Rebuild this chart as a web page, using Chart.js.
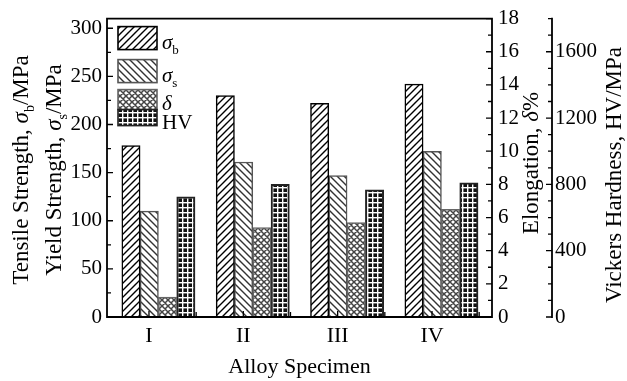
<!DOCTYPE html>
<html>
<head>
<meta charset="utf-8">
<script src="https://cdn.jsdelivr.net/npm/chart.js@4.4.0/dist/chart.umd.min.js"></script>
<style>
html, body { margin: 0; padding: 0; background: #fff; }
#wrap { position: relative; width: 627px; height: 381px; }
</style>
</head>
<body>
<div id="wrap"><canvas id="chart_alloySpecimen"></canvas></div>
<script>
// values
const categories = ['I', 'II', 'III', 'IV'];
const tensileStrength = [178, 230, 222, 242];   // MPa, left axis
const yieldStrength = [110, 161, 147, 172];     // MPa, left axis
const elongation = [1.2, 5.4, 5.7, 6.5];        // %, first right axis
const vickersHardness = [725, 800, 767, 809];   // HV/MPa, second right axis

// legend / series names (rich text parts)
const seriesLabels = [
    [{ t: 'σ', italic: true }, { t: 'b', sub: true }],
    [{ t: 'σ', italic: true }, { t: 's', sub: true }],
    [{ t: 'δ', italic: true }],
    [{ t: 'HV' }]
];

const FONT = '"Liberation Serif", "Times New Roman", serif';
const groupShift = 0.1;

function toPoints(values) {
    return values.map((v, i) => ({ x: i + 1 + groupShift, y: v }));
}

function makePattern(size, draw) {
    const c = document.createElement('canvas');
    c.width = size; c.height = size;
    const g = c.getContext('2d');
    draw(g, size);
    return g.createPattern(c, 'repeat');
}

const patTensile = makePattern(7, (g, s) => {
    g.fillStyle = '#fff'; g.fillRect(0, 0, s, s);
    g.strokeStyle = '#000'; g.lineWidth = 1.4;
    g.beginPath();
    g.moveTo(0, s); g.lineTo(s, 0);
    g.moveTo(-1, 1); g.lineTo(1, -1);
    g.moveTo(s - 1, s + 1); g.lineTo(s + 1, s - 1);
    g.stroke();
});
const patYield = makePattern(7, (g, s) => {
    g.fillStyle = '#fff'; g.fillRect(0, 0, s, s);
    g.strokeStyle = '#333'; g.lineWidth = 1.4;
    g.beginPath();
    g.moveTo(0, 0); g.lineTo(s, s);
    g.moveTo(-1, s - 1); g.lineTo(1, s + 1);
    g.moveTo(s - 1, -1); g.lineTo(s + 1, 1);
    g.stroke();
});
const patElong = makePattern(6, (g, s) => {
    g.fillStyle = '#fff'; g.fillRect(0, 0, s, s);
    g.strokeStyle = '#444'; g.lineWidth = 1.5;
    g.beginPath();
    g.moveTo(0, s); g.lineTo(s, 0);
    g.moveTo(-1, 1); g.lineTo(1, -1);
    g.moveTo(s - 1, s + 1); g.lineTo(s + 1, s - 1);
    g.moveTo(0, 0); g.lineTo(s, s);
    g.moveTo(-1, s - 1); g.lineTo(1, s + 1);
    g.moveTo(s - 1, -1); g.lineTo(s + 1, 1);
    g.stroke();
});
const patHardness = makePattern(5, (g, s) => {
    g.fillStyle = '#111'; g.fillRect(0, 0, s, s);
    g.fillStyle = '#fff';
    g.fillRect(2, 0, 1.4, s);
    g.fillRect(0, 2, s, 1.4);
});

const seriesStyles = [
    { fill: patTensile, border: '#000' },
    { fill: patYield, border: '#555' },
    { fill: patElong, border: '#666' },
    { fill: patHardness, border: '#222' }
];

function fontFor(p, size) {
    return (p.italic ? 'italic ' : '') + Math.round(p.sub ? size * 0.6 : size) + 'px ' + FONT;
}
function richWidth(ctx, parts, size) {
    let w = 0;
    parts.forEach(p => { ctx.font = fontFor(p, size); w += ctx.measureText(p.t).width; });
    return w;
}
// draws text centred at (x, y); rotated reads bottom to top
function drawRich(ctx, parts, size, x, y, rotated, alignLeft) {
    ctx.save();
    ctx.translate(x, y);
    if (rotated) ctx.rotate(-Math.PI / 2);
    ctx.fillStyle = '#000';
    ctx.textAlign = 'left';
    ctx.textBaseline = 'alphabetic';
    let cx = alignLeft ? 0 : -richWidth(ctx, parts, size) / 2;
    const base = size * 0.33;
    parts.forEach(p => {
        ctx.font = fontFor(p, size);
        ctx.fillText(p.t, cx, base + (p.sub ? size * 0.27 : 0));
        cx += ctx.measureText(p.t).width;
    });
    ctx.restore();
}

const tickFont = { family: FONT, size: 21 };

const chart_alloySpecimen = new Chart(document.getElementById('chart_alloySpecimen'), {
    type: 'bar',
    data: {
        datasets: [
            { label: 'σb', data: toPoints(tensileStrength), yAxisID: 'y' },
            { label: 'σs', data: toPoints(yieldStrength), yAxisID: 'y' },
            { label: 'δ', data: toPoints(elongation), yAxisID: 'y1' },
            { label: 'HV', data: toPoints(vickersHardness), yAxisID: 'y2' }
        ].map((d, i) => Object.assign(d, {
            backgroundColor: seriesStyles[i].fill,
            borderColor: seriesStyles[i].border,
            borderWidth: i === 3 ? 2 : 1.5
        }))
    },
    options: {
        animation: false,
        responsive: true,
        maintainAspectRatio: false,
        layout: { padding: { top: 16, left: 0, right: 0, bottom: 0 } },
        datasets: { bar: { barThickness: 18.3 } },
        plugins: {
            legend: { display: false },
            tooltip: { enabled: false }
        },
        scales: {
            x: {
                type: 'linear',
                offset: false,
                min: 0.555,
                max: 4.636,
                grid: { display: false, drawTicks: false, offset: false },
                border: { display: false },
                ticks: {
                    stepSize: 0.5, includeBounds: false, autoSkip: false, maxRotation: 0,
                    padding: 6, color: '#000', font: { family: FONT, size: 22 },
                    callback: v => Number.isInteger(v) ? categories[v - 1] : ''
                },
                afterFit: s => { s.height = 64; }
            },
            y: {
                position: 'left',
                min: 0, max: 310,
                grid: { display: false, drawTicks: false },
                border: { display: false },
                ticks: { stepSize: 50, includeBounds: false, padding: 5, color: '#000', font: tickFont,
                    callback: v => String(v) },
                afterFit: s => { s.width = 107; }
            },
            y1: {
                position: 'right',
                min: 0, max: 18,
                grid: { display: false, drawTicks: false },
                border: { display: false },
                ticks: { stepSize: 2, includeBounds: false, padding: 6, color: '#000', font: tickFont,
                    callback: v => String(v) },
                afterFit: s => { s.width = 60; }
            },
            y2: {
                position: 'right',
                min: 0, max: 1800,
                grid: { display: false, drawTicks: false },
                border: { display: false },
                ticks: { stepSize: 400, includeBounds: false, padding: 3, color: '#000', font: tickFont,
                    callback: v => String(v) },
                afterFit: s => { s.width = 75; }
            }
        }
    },
    plugins: [{
        id: 'whiteBackground',
        beforeDraw: (chart) => {
            const ctx = chart.ctx;
            ctx.save();
            ctx.fillStyle = 'white';
            ctx.fillRect(0, 0, chart.width, chart.height);
            ctx.restore();
        }
    }, {
        id: 'originAxes',
        afterDraw: (chart) => {
            const ctx = chart.ctx;
            const ca = chart.chartArea;
            const { x, y, y1, y2 } = chart.scales;
            const vx = y2.left;
            ctx.save();
            ctx.strokeStyle = '#000';
            ctx.lineCap = 'square';

            // frame + axis lines
            ctx.lineWidth = 1.8;
            ctx.beginPath();
            ctx.moveTo(ca.left, ca.bottom); ctx.lineTo(ca.left, ca.top); ctx.lineTo(ca.right, ca.top);
            ctx.moveTo(ca.right, ca.top); ctx.lineTo(ca.right, ca.bottom);
            ctx.moveTo(ca.left, ca.bottom); ctx.lineTo(ca.right, ca.bottom);
            ctx.moveTo(vx, ca.top); ctx.lineTo(vx, ca.bottom);
            ctx.stroke();

            // inward ticks, major + minor
            ctx.lineWidth = 1.3;
            ctx.lineCap = 'butt';
            ctx.beginPath();
            const ys = y.options.ticks.stepSize / 2;
            for (let v = y.min, k = 0; v <= y.max + 1e-9; v += ys, k++) {
                const py = y.getPixelForValue(v);
                ctx.moveTo(ca.left, py); ctx.lineTo(ca.left + (k % 2 ? 4 : 6), py);
            }
            const y1s = y1.options.ticks.stepSize / 2;
            for (let v = y1.min, k = 0; v <= y1.max + 1e-9; v += y1s, k++) {
                const py = y1.getPixelForValue(v);
                ctx.moveTo(ca.right, py); ctx.lineTo(ca.right - (k % 2 ? 4 : 6), py);
            }
            const y2s = y2.options.ticks.stepSize / 4;
            for (let v = y2.min, k = 0; v <= y2.max + 1e-9; v += y2s, k++) {
                const py = y2.getPixelForValue(v);
                ctx.moveTo(vx, py); ctx.lineTo(vx - (k % 4 ? 4 : 6), py);
            }
            x.ticks.forEach(t => {
                const px = x.getPixelForValue(t.value);
                ctx.moveTo(px, ca.bottom); ctx.lineTo(px, ca.bottom - (Number.isInteger(t.value) ? 6 : 5));
            });
            ctx.stroke();

            // axis titles
            drawRich(ctx, [{ t: 'Tensile Strength, ' }, { t: 'σ', italic: true }, { t: 'b', sub: true }, { t: '/MPa' }], 23, 20, 170, true);
            drawRich(ctx, [{ t: 'Yield Strength, ' }, { t: 'σ', italic: true }, { t: 's', sub: true }, { t: '/MPa' }], 23, 53, 170, true);
            drawRich(ctx, [{ t: 'Elongation, ' }, { t: 'δ', italic: true }, { t: '%' }], 23, 530, 163, true);
            drawRich(ctx, [{ t: 'Vickers Hardness, HV/MPa' }], 23, 613, 175, true);
            drawRich(ctx, [{ t: 'Alloy Specimen' }], 22, (ca.left + ca.right) / 2, 366, false);

            // legend
            const bx = ca.left + 11, bw = 39;
            const rows = [
                { top: 24, h: 23, base: 36 },
                { top: 57, h: 23, base: 69 },
                { top: 87, h: 20, base: 97 },
                { top: 107, h: 16, base: 116 }
            ];
            rows.forEach((r, i) => {
                const st = seriesStyles[i];
                ctx.fillStyle = st.fill;
                ctx.fillRect(bx, ca.top + r.top - 16, bw, r.h);
                ctx.lineWidth = 1.6;
                ctx.strokeStyle = st.border;
                ctx.strokeRect(bx, ca.top + r.top - 16, bw, r.h);
                drawRich(ctx, seriesLabels[i], 21, bx + bw + 5, ca.top + r.base - 16 + 3, false, true);
            });
            ctx.restore();
        }
    }]
});

window.addEventListener('beforeprint', () => {
    chart_alloySpecimen.resize(627, 381);
});
window.addEventListener('afterprint', () => {
    chart_alloySpecimen.resize();
});
</script>
</body>
</html>
